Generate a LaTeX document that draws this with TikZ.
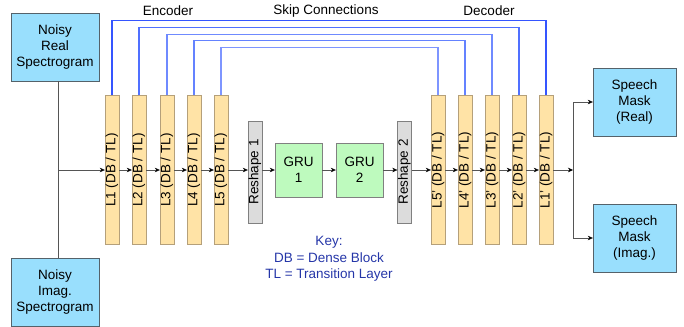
\documentclass[tikz,border=0pt]{standalone}
\usepackage{fontspec}
\setmainfont{Liberation Sans}
\usetikzlibrary{arrows.meta}
\definecolor{iofill}{HTML}{99DFFD}
\definecolor{ioline}{HTML}{55626A}
\definecolor{layerfill}{HTML}{FFE3A6}
\definecolor{layerline}{HTML}{B5A07A}
\definecolor{grufill}{HTML}{BEFABE}
\definecolor{reshfill}{HTML}{DCDCDC}
\definecolor{flowline}{HTML}{555555}
\definecolor{keyblue}{HTML}{2536A8}
\definecolor{skipa}{HTML}{3555FF}
\definecolor{skipb}{HTML}{5070FF}
\definecolor{skipc}{HTML}{6F8AFF}
\definecolor{skipd}{HTML}{6482FF}
\definecolor{skipe}{HTML}{7E95FF}

\begin{document}
\begin{tikzpicture}[x=1pt,y=-1pt,font=\fontsize{13.5}{16}\selectfont,
		io/.style={draw=ioline,fill=iofill,minimum width=88pt,minimum height=68pt,inner sep=0pt,align=center},
		layer/.style={draw=layerline,fill=layerfill,minimum width=14pt,minimum height=149pt,inner sep=0pt},
		reshape/.style={draw=gray,fill=reshfill,minimum width=14pt,minimum height=102pt,inner sep=0pt},
		gru/.style={draw=gray,fill=grufill,minimum width=47pt,minimum height=54pt,inner sep=0pt,align=center},
		flow/.style={draw=flowline,-{Stealth[length=5pt,width=4.5pt,color=black]}},
		skip/.style={line width=1.1pt}]
		\useasboundingbox (0,0) rectangle (684,326);
		% inputs
		\node[io] (real) at (55,47) {Noisy\\Real\\Spectrogram};
		\node[io] (imag) at (55,292) {Noisy\\Imag.\\Spectrogram};
		\coordinate (split) at (58,170);
		% encoder and decoder layers
		\foreach \i/\xe/\xd in {1/112/546,2/139/519,3/167/492,4/194/465,5/221/438}{
			\node[layer] (enc\i) at (\xe,170) {\rotatebox{90}{L\i{} (DB / TL)}};
			\node[layer] (dec\i) at (\xd,170) {\rotatebox{90}{L\i'{} (DB / TL)}};
		}
		% bottleneck
		\node[reshape] (res1) at (255,172) {\rotatebox{90}{Reshape 1}};
		\node[gru] (gru1) at (298.5,170) {GRU\\1};
		\node[gru] (gru2) at (359.5,170) {GRU\\2};
		\node[reshape] (res2) at (404.5,172) {\rotatebox{90}{Reshape 2}};
		% outputs
		\node[io,minimum width=83pt] (mreal) at (634.5,102) {Speech\\Mask\\(Real)};
		\node[io,minimum width=83pt] (mimag) at (634.5,238) {Speech\\Mask\\(Imag.)};
		\coordinate (fork) at (573,170);
		% labels
		\node (enclabel) at (168,11) {Encoder};
		\node (skiplabel) at (326,11) {Skip Connections};
		\node (declabel) at (489,11) {Decoder};
		\node[keyblue,align=center,font=\fontsize{13.5}{16.5}\selectfont] (key) at (329,259) {Key:\\DB = Dense Block\\TL = Transition Layer};
		% skip connections
		\foreach \i/\h/\c in {1/20.5/skipa,2/27.5/skipb,3/34/skipc,4/40.5/skipd,5/47/skipe}
			\draw[skip,\c] (enc\i.north) -- ++(0,{\h-95}) -| (dec\i.north);
		% main flow
		\draw[flowline] (real.south -| split) -- (imag.north -| split);
		\draw[flow] (split) -- (enc1);
		\foreach \a/\b in {1/2,2/3,3/4,4/5}{
			\draw[flow] (enc\a) -- (enc\b);
			\draw[flow] (dec\b) -- (dec\a);
		}
		\draw[flow] (enc5) -- (enc5 -| res1.west);
		\draw[flow] (gru1 -| res1.east) -- (gru1);
		\draw[flow] (gru1) -- (gru2);
		\draw[flow] (gru2) -- (gru2 -| res2.west);
		\draw[flow] (dec5 -| res2.east) -- (dec5);
		\draw[flow] (dec1) -- (fork);
		\draw[flow] (fork) |- (mreal);
		\draw[flow] (fork) |- (mimag);
\end{tikzpicture}
\end{document}
